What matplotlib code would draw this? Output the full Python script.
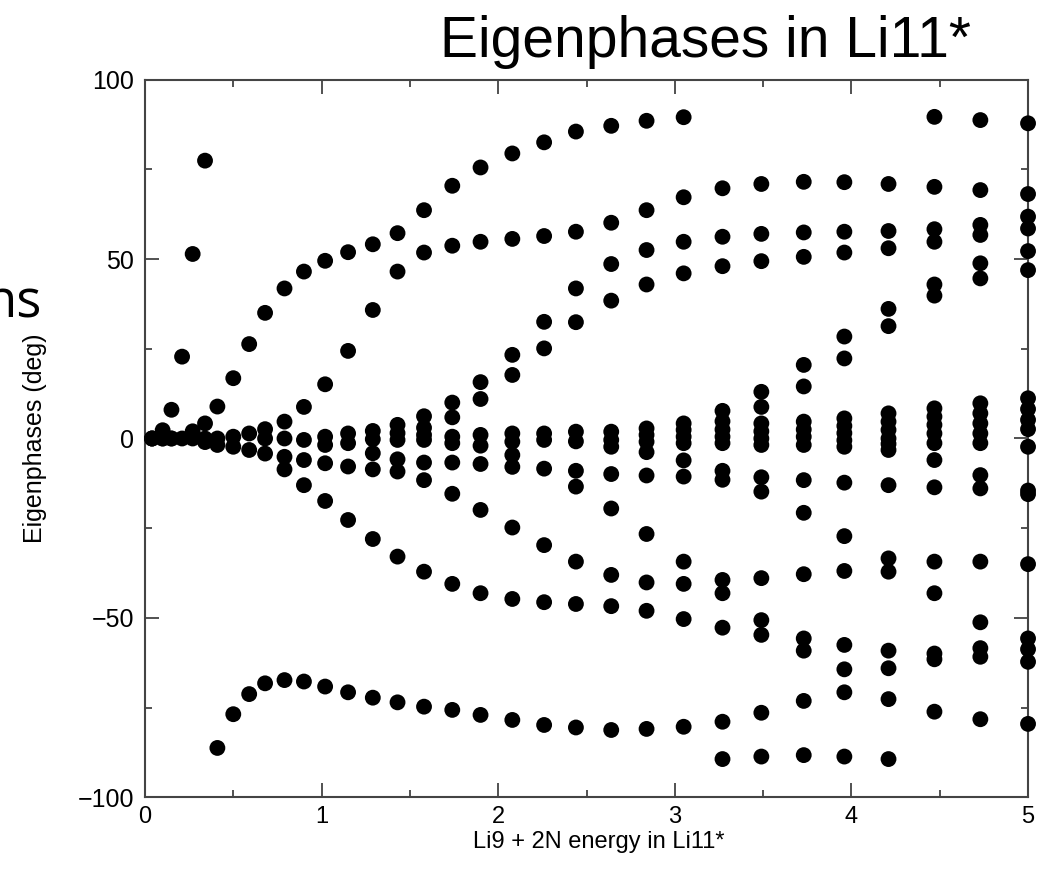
import numpy as np
import matplotlib.pyplot as plt
from matplotlib.ticker import MultipleLocator

# energy grid (Li9 + 2N energy in Li11*)
energies = [0.04, 0.10, 0.15, 0.21, 0.27, 0.34, 0.41, 0.50, 0.59, 0.68, 0.79,
            0.90, 1.02, 1.15, 1.29, 1.43, 1.58, 1.74, 1.90, 2.08, 2.26, 2.44,
            2.64, 2.84, 3.05, 3.27, 3.49, 3.73, 3.96, 4.21, 4.47, 4.73, 5.00]

# eigenphases (deg) at each energy
phases = [
    [0, 0, 0],
    [2.3, 0, 0],
    [8.0, 0, 0],
    [22.8, 0],
    [51.4, 2.0, 0],
    [77.4, 4.2, 0, -1.0],
    [8.9, 0, -1.8, -86.2],
    [16.8, 0.5, -2.3, -76.8],
    [26.3, 1.4, -3.2, -71.2],
    [35.0, 2.6, 0, -4.2, -68.2],
    [41.8, 4.7, 0, -5.1, -8.6, -67.3],
    [46.5, 8.8, -0.4, -6.0, -13.0, -67.7],
    [49.5, 15.1, 0.5, -1.8, -6.9, -17.4, -69.1],
    [51.9, 24.4, 1.4, -1.3, -7.8, -22.7, -70.7],
    [54.1, 35.8, 2.1, -0.2, -4.1, -8.6, -28.0, -72.2],
    [57.2, 46.5, 3.8, 1.5, -0.4, -5.8, -9.2, -32.9, -73.5],
    [63.6, 51.8, 6.2, 3.0, 1.0, -0.4, -6.7, -11.6, -37.1, -74.7],
    [70.4, 53.7, 10.0, 5.9, 0.5, -1.3, -6.7, -15.4, -40.5, -75.6],
    [75.5, 54.8, 15.7, 11.0, 1.0, -2.0, -7.1, -19.9, -43.1, -77.0],
    [79.4, 55.6, 23.3, 17.7, 1.4, -0.9, -4.6, -7.9, -24.8, -44.7, -78.4],
    [82.5, 56.4, 32.5, 25.1, 1.4, -0.4, -8.4, -29.7, -45.6, -79.8],
    [85.5, 57.6, 41.8, 32.4, 1.9, -0.8, -9.0, -13.4, -34.3, -46.1, -80.5],
    [87.1, 60.1, 48.6, 38.4, 1.9, -0.4, -2.3, -9.9, -19.5, -38.0, -46.7, -81.2],
    [88.5, 63.6, 52.5, 42.9, 2.8, 1.0, -0.9, -3.8, -10.3, -26.6, -40.1, -48.0, -80.9],
    [89.5, 67.2, 54.8, 46.0, 4.2, 2.4, 0.5, -1.3, -6.1, -10.6, -34.3, -40.5, -50.3, -80.3],
    [69.7, 56.2, 48.0, 7.7, 4.8, 2.5, 0.5, -1.3, -9.0, -11.5, -39.4, -43.1, -52.7, -78.9, -89.3],
    [70.9, 57.0, 49.4, 13.0, 8.8, 4.2, 2.0, 0, -1.8, -10.8, -14.8, -38.9, -50.6, -54.7, -76.4, -88.6],
    [71.5, 57.4, 50.6, 20.5, 14.5, 4.7, 2.5, 0.5, -1.8, -11.6, -20.7, -37.8, -55.7, -59.1, -73.1, -88.2],
    [71.4, 57.6, 51.8, 28.4, 22.3, 5.6, 3.5, 1.5, -0.5, -2.3, -12.3, -27.2, -36.9, -57.5, -64.3, -70.7, -88.6],
    [70.9, 57.8, 53.0, 36.1, 31.3, 7.0, 4.7, 2.4, 0, -1.5, -3.2, -13.0, -33.4, -37.1, -59.1, -64.0, -72.6, -89.3],
    [89.6, 70.1, 58.3, 54.8, 42.9, 39.8, 8.4, 6.1, 3.8, 1.4, -1.3, -6.0, -13.6, -34.3, -43.1, -59.9, -61.5, -76.1],
    [88.7, 69.2, 59.5, 56.7, 48.8, 44.6, 9.8, 7.0, 4.2, 1.4, -1.3, -10.2, -13.9, -34.3, -51.2, -58.4, -60.8, -78.2],
    [87.8, 68.1, 61.8, 58.5, 52.2, 46.9, 11.2, 8.2, 5.2, 2.6, -2.3, -14.5, -15.5, -35.0, -55.7, -58.7, -62.2, -79.5],
]

title = 'Eigenphases in Li11*'
xlabel = 'Li9 + 2N energy in Li11*'
ylabel = 'Eigenphases (deg)'

plt.rcParams['font.family'] = ['Liberation Sans', 'DejaVu Sans']

fig = plt.figure(figsize=(10.4, 8.69), dpi=100)
ax = fig.add_axes([0.1394, 0.0823, 0.8491, 0.8262])

xs = []
ys = []
for e, col in zip(energies, phases):
    for p in col:
        xs.append(e)
        ys.append(p)

ax.scatter(xs, ys, s=130, color='black', edgecolors='none', clip_on=False, zorder=3)

ax.set_xlim(0, 5)
ax.set_ylim(-100, 100)
ax.xaxis.set_major_locator(MultipleLocator(1))
ax.xaxis.set_minor_locator(MultipleLocator(0.5))
ax.yaxis.set_major_locator(MultipleLocator(50))
ax.yaxis.set_minor_locator(MultipleLocator(25))
ax.tick_params(which='both', direction='in', top=True, right=True,
               labelsize=18, color='#333333', pad=8)
ax.tick_params(axis='x', which='both', labelsize=17, pad=6)
ax.tick_params(which='major', length=10, width=1.2)
ax.tick_params(which='minor', length=5, width=1.2)
for sp in ax.spines.values():
    sp.set_color('#444444')
    sp.set_linewidth(1.5)

ax.set_xlabel(xlabel, fontsize=17)
ax.xaxis.set_label_coords(0.514, -0.046)
ax.set_ylabel(ylabel, fontsize=18, labelpad=22)

fig.text(0.678, 1 - 57 / 869, title, fontsize=41, ha='center', va='baseline')
# clipped label remnant at the left edge
fig.text(42 / 1040, 1 - 317 / 869, 'ns', fontsize=38, ha='right', va='baseline',
         family=['Open Sans', 'DejaVu Sans'])

fig.savefig('out.png', dpi=100)
